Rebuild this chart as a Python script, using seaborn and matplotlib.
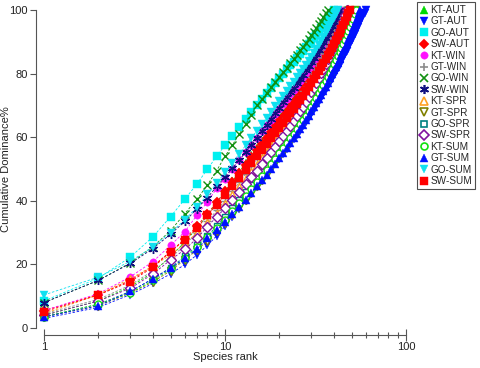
import matplotlib
matplotlib.use("Agg")
import matplotlib.pyplot as plt
from matplotlib.lines import Line2D
import seaborn as sns

# ---------------- data (cumulative dominance %, species ranks 1..N) ----------------
series_names = ["KT-AUT", "GT-AUT", "GO-AUT", "SW-AUT",
                "KT-WIN", "GT-WIN", "GO-WIN", "SW-WIN",
                "KT-SPR", "GT-SPR", "GO-SPR", "SW-SPR",
                "KT-SUM", "GT-SUM", "GO-SUM", "SW-SUM"]

kt_aut = [4, 8.5, 13, 17.5, 22.5, 27, 31.5, 35.5, 39.5, 43, 46.2, 49.1, 51.8, 54.3, 56.6, 58.7, 60.7,
          62.6, 64.4, 66.1, 67.7, 69.2, 70.7, 72.1, 73.5, 74.9, 76.2, 77.5, 78.8, 80.1, 81.4, 82.7,
          84, 85.3, 86.5, 87.7, 88.9, 90.1, 91.3, 92.5, 93.7, 94.9, 96.2, 97.5, 98.8, 100]
gt_aut = [3, 6.5, 10.5, 14, 17, 20, 23, 26, 29, 32, 34.9, 37.5, 39.9, 42.1, 44.2, 46.2, 48.1, 49.9,
          51.6, 53.2, 54.8, 56.3, 57.8, 59.3, 60.7, 62.1, 63.5, 64.8, 66.1, 67.4, 68.7, 70, 71.2,
          72.4, 73.6, 74.8, 76, 77.2, 78.4, 79.5, 80.6, 81.7, 82.8, 83.9, 85, 86.1, 87.2, 88.3,
          89.4, 90.5, 91.5, 92.5, 93.5, 94.5, 95.5, 96.5, 97.5, 98.4, 99.2, 100]
go_aut = [8.5, 15.7, 22.3, 28.7, 35, 40.5, 45.3, 50, 54, 57.5, 60.5, 63.2, 65.7, 68, 70.1, 72, 73.8,
          75.5, 77.1, 78.6, 80, 81.3, 82.6, 83.8, 85, 86.1, 87.2, 88.3, 89.4, 90.4, 91.4, 92.4,
          93.3, 94.2, 95.1, 96, 96.9, 97.9, 98.9, 100]
sw_aut = [5.5, 10.5, 15, 19.5, 24, 28, 32, 36, 39.5, 43, 46, 48.8, 51.4, 53.8, 56, 58, 59.9, 61.7,
          63.4, 65, 66.5, 68, 69.4, 70.8, 72.1, 73.4, 74.7, 76, 77.2, 78.4, 79.6, 80.8, 82, 83.2,
          84.4, 85.6, 86.8, 88, 89.2, 90.4, 91.6, 92.8, 94, 95.2, 96.4, 97.6, 98.8, 100]
kt_win = [5.5, 10.8, 16.1, 20.9, 26, 30.3, 35.5, 39.7, 43.9, 47, 50, 52.8, 55.3, 57.6, 59.8, 61.8,
          63.7, 65.5, 67.2, 68.9, 70.5, 72, 73.5, 74.9, 76.3, 77.6, 78.9, 80.2, 81.5, 82.7, 83.9,
          85.1, 86.3, 87.5, 88.6, 89.7, 90.9, 92.1, 93.4, 94.7, 96, 97.3, 98.6, 100]
gt_win = [4.5, 9, 13.5, 18, 22, 26, 30, 33.5, 37, 40, 43, 45.8, 48.4, 50.9, 53.2, 55.4, 57.5, 59.5,
          61.4, 63.2, 65, 66.7, 68.3, 69.9, 71.4, 72.9, 74.4, 75.9, 77.4, 78.9, 80.4, 81.9, 83.4,
          84.9, 86.4, 87.9, 89.4, 90.8, 92.2, 93.6, 95, 96.3, 97.6, 98.8, 100]
go_win = [8, 15, 20.5, 25.6, 30.6, 36, 40.5, 45, 49.5, 54, 57.6, 61, 64.1, 67.1, 70, 72, 73.9, 75.7,
          77.4, 79, 80.5, 81.9, 83.3, 84.7, 86, 87.3, 88.5, 89.7, 90.9, 92, 93.2, 94.4, 95.5, 96.6,
          97.7, 98.9, 100]
sw_win = [8, 15, 20.3, 25, 29.5, 33.5, 37.5, 41, 44.5, 47.5, 50.3, 52.9, 55.3, 57.6, 59.8, 61.9,
          63.9, 65.8, 67.6, 69.3, 71, 72.6, 74.1, 75.6, 77, 78.4, 79.7, 81, 82.3, 83.5, 84.8, 86.1,
          87.4, 88.7, 90, 91.3, 92.6, 93.8, 95, 96.2, 97.4, 98.7, 100]
kt_spr = [4.5, 10.5, 15.5, 19.5, 23, 26.5, 30, 33, 36, 39, 41.8, 44.4, 46.8, 49.1, 51.3, 53.4, 55.4,
          57.3, 59.1, 60.9, 62.6, 64.2, 65.8, 67.3, 68.8, 70.3, 71.7, 73.1, 74.5, 75.9, 77.3, 78.7,
          80, 81.3, 82.6, 83.9, 85.2, 86.5, 87.8, 89.1, 90.4, 91.7, 93, 94.4, 95.8, 97.2, 98.6, 100]
gt_spr = [3.5, 7, 11, 14.5, 18, 21.5, 24.5, 27.5, 30.5, 33, 35.6, 38, 40.3, 42.5, 44.6, 46.6, 48.5,
          50.3, 52.1, 53.8, 55.5, 57.1, 58.7, 60.3, 61.8, 63.3, 64.8, 66.3, 67.8, 69.3, 70.8, 72.3,
          73.8, 75.3, 76.8, 78.3, 79.8, 81.3, 82.8, 84.3, 85.8, 87.3, 88.8, 90.2, 91.6, 93, 94.4,
          95.7, 97, 98.1, 99.1, 100]
go_spr = [3.5, 7.5, 11.5, 15.5, 19, 22.5, 26, 29, 32, 35, 37.8, 40.4, 42.8, 45, 47.1, 49.1, 51, 52.8,
          54.6, 56.3, 58, 59.6, 61.2, 62.7, 64.2, 65.7, 67.1, 68.5, 69.9, 71.3, 72.7, 74.1, 75.5,
          76.9, 78.3, 79.7, 81.1, 82.5, 83.9, 85.3, 86.7, 88.1, 89.5, 90.9, 92.3, 93.7, 95.1, 96.6,
          98.2, 100]
sw_spr = [4, 8.5, 12.5, 17, 21.4, 24.7, 28.2, 31.9, 35, 37.6, 40.3, 42.8, 45.2, 47.4, 49.5, 51.5,
          53.4, 55.2, 57, 58.7, 60.4, 62, 63.6, 65.1, 66.6, 68.1, 69.6, 71.1, 72.6, 74.1, 75.6,
          77.1, 78.6, 80.1, 81.6, 83.1, 84.6, 86.1, 87.6, 89.1, 90.6, 92.1, 93.6, 95.1, 96.6, 98.3, 100]
kt_sum = [3.5, 7.5, 11, 15, 18.5, 22, 25.5, 28.5, 31.5, 34, 36.7, 39.2, 41.5, 43.7, 45.8, 47.8, 49.7,
          51.5, 53.2, 54.9, 56.5, 58.1, 59.6, 61.1, 62.6, 64, 65.4, 66.8, 68.2, 69.6, 71, 72.4, 73.8,
          75.1, 76.4, 77.7, 79, 80.3, 81.6, 82.9, 84.2, 85.5, 86.8, 88.1, 89.4, 90.7, 92, 93.3, 94.6,
          95.9, 97.2, 98.6, 100]
gt_sum = [3.5, 7, 11.5, 15.5, 18.8, 21.9, 24.9, 28.2, 30.8, 33.4, 35.9, 38.2, 40.4, 42.5, 44.5, 46.4,
          48.2, 50, 51.7, 53.4, 55, 56.6, 58.1, 59.6, 61.1, 62.5, 63.9, 65.3, 66.7, 68.1, 69.4, 70.7,
          72, 73.3, 74.6, 75.9, 77.2, 78.5, 79.8, 81, 82.2, 83.4, 84.6, 85.8, 87, 88.2, 89.4, 90.6,
          91.8, 93, 94.2, 95.4, 96.6, 97.8, 98.9, 100]
go_sum = [10.4, 16, 21, 25.5, 30, 34, 38, 42, 45.5, 49, 52, 54.8, 57.4, 59.8, 62, 64.1, 66.1, 68,
          69.8, 71.5, 73.1, 74.6, 76.1, 77.5, 78.9, 80.2, 81.5, 82.8, 84, 85.2, 86.5, 87.8, 89.1,
          90.4, 91.6, 92.8, 94, 95.2, 96.4, 97.6, 98.8, 100]
sw_sum = [5.1, 10.4, 14.6, 19.1, 24, 27.7, 31.3, 35.5, 38.8, 41.8, 44.6, 47.2, 49.6, 51.9, 54, 56,
          57.9, 59.7, 61.4, 63, 64.6, 66.1, 67.6, 69, 70.4, 71.8, 73.1, 74.4, 75.7, 77, 78.3, 79.6,
          80.9, 82.1, 83.3, 84.5, 85.7, 86.9, 88.1, 89.3, 90.5, 91.7, 92.9, 94.1, 95.3, 96.5, 97.7,
          98.9, 100]

series_values = [kt_aut, gt_aut, go_aut, sw_aut, kt_win, gt_win, go_win, sw_win,
                 kt_spr, gt_spr, go_spr, sw_spr, kt_sum, gt_sum, go_sum, sw_sum]

y_ticks = [0, 20, 40, 60, 80, 100]
x_ticks = [1, 10, 100]
x_tick_labels = ["1", "10", "100"]

# ---------------- styles ----------------
colors = ["#00d800", "#0010ff", "#00f0f0", "#ff0000",
          "#ff10ff", "#8c8c8c", "#109010", "#101080",
          "#ffa020", "#808000", "#008080", "#8010a0",
          "#10e010", "#0010ff", "#10e0f0", "#ff0000"]
markers = ["^", "v", "s", "D",
           "o", "+", "x", (6, 2, 0),
           "^", "v", "s", "D",
           "o", "^", "v", "s"]
filled = [True, True, True, True,
          True, True, True, True,
          False, False, False, False,
          False, True, True, True]
msizes = [5.8, 5.8, 5.3, 4.6,
          5.3, 6.0, 5.5, 6.5,
          5.5, 5.5, 4.8, 4.8,
          5.0, 5.8, 5.8, 5.5]

sns.set_style("ticks")
plt.rcParams["font.family"] = ["Liberation Sans", "DejaVu Sans"]

fig = plt.figure(figsize=(4.8, 3.68), dpi=100)
ax = fig.add_axes([44 / 480, 1 - 328 / 368, (406 - 44) / 480, (328 - 10) / 368])

for name, vals, c, m, f, ms in zip(series_names, series_values, colors, markers, filled, msizes):
    ranks = list(range(1, len(vals) + 1))
    sns.lineplot(x=ranks, y=vals, ax=ax, color=c, marker=m, markersize=ms,
                 markerfacecolor=(c if f else "white"), markeredgecolor=c,
                 markeredgewidth=(1.0 if (not f or m in ["+", "x", (6, 2, 0)]) else 0.3),
                 linestyle=(0, (3, 2)), linewidth=0.6, clip_on=False, legend=False)

ax.set_xscale("log")
ax.set_xlim(1, 100)
ax.set_ylim(0, 100)
ax.set_xticks(x_ticks)
ax.set_xticklabels(x_tick_labels)
ax.set_yticks(y_ticks)
ax.set_xlabel("Species rank", fontsize=8, color="#222222")
ax.set_ylabel("Cumulative Dominance%", fontsize=8, color="#222222")
ax.yaxis.set_label_coords((11 - 44) / 362, 0.5)
ax.xaxis.set_label_coords(0.5, (328 - 352) / 318)

sns.despine(ax=ax, offset={"left": 6, "bottom": 5}, trim=True)
for sp in ["left", "bottom"]:
    ax.spines[sp].set_color("#555555")
    ax.spines[sp].set_linewidth(0.8)
ax.tick_params(axis="y", which="major", direction="out", length=4, width=0.8,
               color="#555555", labelsize=8, pad=1.5, labelcolor="#222222")
ax.tick_params(axis="x", which="major", direction="inout", length=8, width=0.8,
               color="#555555", labelsize=8, pad=1, labelcolor="#222222")
ax.tick_params(axis="x", which="minor", direction="inout", length=5, width=0.8,
               color="#555555")

handles = []
for name, c, m, f, ms in zip(series_names, colors, markers, filled, msizes):
    handles.append(Line2D([], [], linestyle="none", marker=m, markersize=ms, color=c,
                          markerfacecolor=(c if f else "white"), markeredgecolor=c,
                          markeredgewidth=(1.2 if (not f or m in ["+", "x", (6, 2, 0)]) else 0.3)))
leg = fig.legend(handles, series_names, loc="upper left", bbox_to_anchor=(417 / 480, 1 - 2 / 368),
                 fontsize=7.2, frameon=True, fancybox=False, edgecolor="#222222",
                 handlelength=0.7, handletextpad=0.35, labelspacing=0.14, borderpad=0.3,
                 borderaxespad=0.0)
leg.get_frame().set_linewidth(0.8)

fig.savefig("out.png", dpi=100)
